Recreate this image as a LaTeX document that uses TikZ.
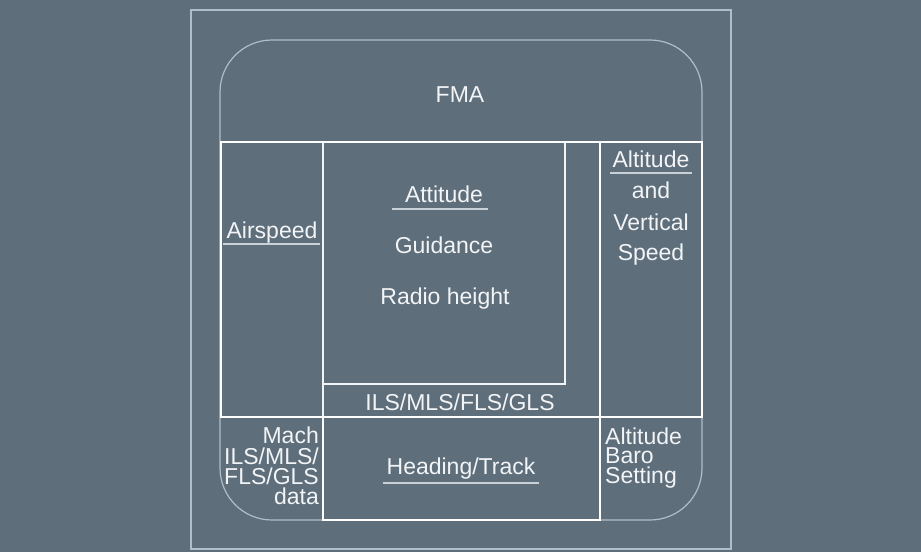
\documentclass[tikz,border=0pt]{standalone}
\usepackage{fontspec}
\setmainfont{Liberation Sans}
\definecolor{bg}{RGB}{94,110,123}
\definecolor{frame}{RGB}{176,190,202}
\definecolor{txt}{RGB}{242,244,246}
\definecolor{uline}{RGB}{200,208,216}
\tikzset{
  lbl/.style={text=txt, font=\fontsize{23}{20}\selectfont, inner sep=0pt},
  tightlbl/.style={lbl, text height=15pt, text depth=4pt},
  thick box/.style={draw=white, line width=2.6pt},
  thin box/.style={draw=txt, line width=1.1pt},
  ul/.style={draw=uline, line width=1.3pt},
}
\begin{document}
\begin{tikzpicture}[x=1pt,y=-1pt]
\fill[bg] (0,0) rectangle (921,552);
\useasboundingbox (0,0) rectangle (921,552);
% outer frame
\draw[frame, line width=1.2pt] (191,10) rectangle (731,549);
% rounded outline
\draw[frame, line width=1.2pt, rounded corners=52pt] (220,40) rectangle (702,520);
% thin internal lines
\draw[thin box] (323,142) rectangle (565,384);
\draw[thin box] (323,142) -- (323,417);
\draw[draw=white, line width=1.8pt] (600,142) -- (600,417);
% thick main rect and heading box
\draw[thick box] (221,142) rectangle (702,417);
\draw[thick box] (323,417) rectangle (600,520);

% texts
\node[lbl, anchor=base] (fma) at (460,102) {FMA};
\node[lbl, anchor=base] (asp) at (272,238) {Airspeed};
\draw[ul] (223,244) -- (320,244);
\node[lbl, anchor=base] (att) at (444,202) {Attitude};
\draw[ul] (392,209) -- (488,209);
\node[lbl, anchor=base] (gui) at (444,253) {Guidance};
\node[lbl, anchor=base] (rad) at (445,304) {Radio height};
\node[lbl, anchor=base] (ils) at (460,410) {ILS/MLS/FLS/GLS};
\node[lbl, anchor=base] (alt) at (651,167) {Altitude};
\draw[ul] (610,173) -- (692,173);
\node[lbl, anchor=base] (and) at (651,198) {and};
\node[lbl, anchor=base] (vert) at (651,230) {Vertical};
\node[lbl, anchor=base] (spd) at (651,260) {Speed};
\node[lbl, anchor=base] (hdg) at (461,474) {Heading/Track};
\draw[ul] (383,483) -- (539,483);
\node[tightlbl, anchor=base east] (m1) at (319,443) {Mach};
\node[tightlbl, anchor=base east] (m2) at (319,464) {ILS/MLS/};
\node[tightlbl, anchor=base east] (m3) at (319,484) {FLS/GLS};
\node[tightlbl, anchor=base east] (m4) at (319,504) {data};
\node[tightlbl, anchor=base west] (b1) at (605,444) {Altitude};
\node[tightlbl, anchor=base west] (b2) at (605,463) {Baro};
\node[tightlbl, anchor=base west] (b3) at (605,483) {Setting};
\end{tikzpicture}
\end{document}
